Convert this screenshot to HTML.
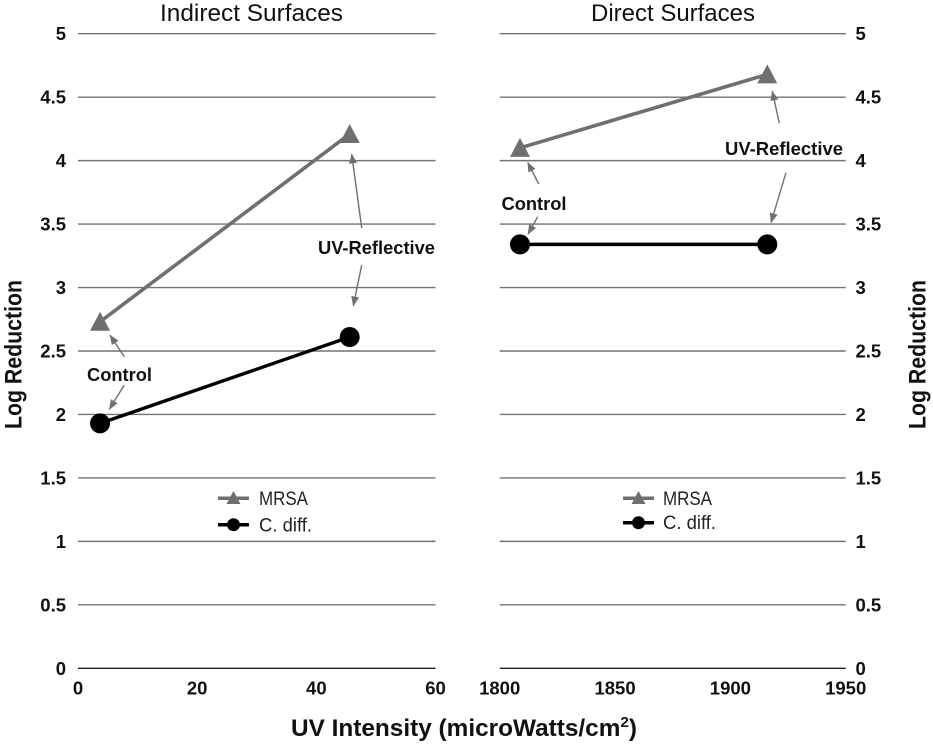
<!DOCTYPE html>
<html lang="en">
<head>
<meta charset="utf-8">
<title>Log Reduction vs UV Intensity</title>
<style>
html,body{margin:0;padding:0;background:#fff;width:933px;height:744px;overflow:hidden}
svg{display:block}
text{font-family:"Liberation Sans",sans-serif;fill:#111}
.tick{font-weight:bold;font-size:18.5px}
.title{font-size:24px}
.axis-title{font-weight:bold;font-size:24px}
.note{font-weight:bold;font-size:18px}
.legend-text{font-size:19px;fill:#222}
.arrow{stroke:#707070;stroke-width:1.4;fill:none;marker-end:url(#arrow-head)}
</style>
</head>
<body>
<svg id="chart" width="933" height="744" viewBox="0 0 933 744" xmlns="http://www.w3.org/2000/svg">
  <defs>
    <marker id="arrow-head" markerUnits="userSpaceOnUse" markerWidth="11" markerHeight="10" refX="9.5" refY="4" orient="auto">
      <path d="M0,0 L10,4 L0,8 Z" fill="#707070"></path>
    </marker>
  </defs>
  <rect width="933" height="744" fill="#fff"></rect>
  <g id="grid"></g>
  <g id="ticks"></g>

  <text class="title" x="160" y="21" textLength="183" lengthAdjust="spacingAndGlyphs">Indirect Surfaces</text>
  <text class="title" x="591" y="21" textLength="164" lengthAdjust="spacingAndGlyphs">Direct Surfaces</text>

  <text class="axis-title" transform="translate(21.5,429) rotate(-90)" textLength="149" lengthAdjust="spacingAndGlyphs">Log Reduction</text>
  <text class="axis-title" transform="translate(925.5,429) rotate(-90)" textLength="149" lengthAdjust="spacingAndGlyphs">Log Reduction</text>
  <text class="axis-title" x="291" y="736" textLength="346" lengthAdjust="spacingAndGlyphs">UV Intensity (microWatts/cm<tspan font-size="15" dy="-9">2</tspan><tspan dy="9">)</tspan></text>

  <g id="series"></g>

  <g>
    <line class="arrow" x1="361.7" y1="228" x2="351.7" y2="154"></line>
    <line class="arrow" x1="361.7" y1="265" x2="353.3" y2="306"></line>
    <line class="arrow" x1="124.3" y1="356.7" x2="110" y2="335"></line>
    <line class="arrow" x1="124.3" y1="385" x2="109.3" y2="409.3"></line>
    <text class="note" x="318" y="254" textLength="117" lengthAdjust="spacingAndGlyphs">UV-Reflective</text>
    <text class="note" x="87" y="381" textLength="65" lengthAdjust="spacingAndGlyphs">Control</text>
  </g>
  <g>
    <line class="arrow" x1="779.3" y1="123.3" x2="772.3" y2="91"></line>
    <line class="arrow" x1="786" y1="172.7" x2="771" y2="222.7"></line>
    <line class="arrow" x1="538.7" y1="184" x2="527.7" y2="162.3"></line>
    <line class="arrow" x1="537.7" y1="216.7" x2="528" y2="234.3"></line>
    <text class="note" x="725" y="155" textLength="118" lengthAdjust="spacingAndGlyphs">UV-Reflective</text>
    <text class="note" x="501.5" y="210" textLength="65" lengthAdjust="spacingAndGlyphs">Control</text>
  </g>

  <g>
    <g>
      <line x1="218" x2="249" y1="498.3" y2="498.3" stroke="#6f6f6f" stroke-width="3.5"></line>
      <path d="M233.5,491 L240.5,504 L226.5,504 Z" fill="#6f6f6f"></path>
      <text class="legend-text" x="259" y="505" textLength="49" lengthAdjust="spacingAndGlyphs">MRSA</text>
    </g>
    <g>
      <line x1="218" x2="249" y1="524.7" y2="524.7" stroke="#000" stroke-width="3.5"></line>
      <circle cx="233.5" cy="524.7" r="6.5" fill="#000"></circle>
      <text class="legend-text" x="259" y="531.3" textLength="53" lengthAdjust="spacingAndGlyphs">C. diff.</text>
    </g>
  </g>
  <g>
    <g>
      <line x1="623" x2="654" y1="498.3" y2="498.3" stroke="#6f6f6f" stroke-width="3.5"></line>
      <path d="M638.5,491 L645.5,504 L631.5,504 Z" fill="#6f6f6f"></path>
      <text class="legend-text" x="663" y="505" textLength="49" lengthAdjust="spacingAndGlyphs">MRSA</text>
    </g>
    <g>
      <line x1="623" x2="654" y1="522.7" y2="522.7" stroke="#000" stroke-width="3.5"></line>
      <circle cx="638.5" cy="522.7" r="6.5" fill="#000"></circle>
      <text class="legend-text" x="663" y="529" textLength="53" lengthAdjust="spacingAndGlyphs">C. diff.</text>
    </g>
  </g>
</svg>
<script>
const yTickValues = [0, 0.5, 1, 1.5, 2, 2.5, 3, 3.5, 4, 4.5, 5];
const indirectXTicks = [0, 20, 40, 60];
const directXTicks = [1800, 1850, 1900, 1950];

const indirectIntensity = [3.7, 45.6];
const indirectMrsa = [2.73, 4.21];
const indirectCdiff = [1.93, 2.61];

const directIntensity = [1808.8, 1916];
const directMrsa = [4.10, 4.68];
const directCdiff = [3.34, 3.34];

const SVG_NS = 'http://www.w3.org/2000/svg';
const gridLayer = document.getElementById('grid');
const tickLayer = document.getElementById('ticks');
const seriesLayer = document.getElementById('series');

function make(tag, attrs, parent) {
  const el = document.createElementNS(SVG_NS, tag);
  for (const key in attrs) el.setAttribute(key, attrs[key]);
  parent.appendChild(el);
  return el;
}
function linear(d0, d1, r0, r1) {
  return function (v) { return r0 + (v - d0) * (r1 - r0) / (d1 - d0); };
}

const yScale = linear(0, 5, 668.3, 33.7);
const indirectX = linear(0, 60, 78, 435.5);
const directX = linear(1800, 1950, 499.7, 845.7);

function drawPanel(panel, xScale, xTicks, yLabelX, yLabelAnchor) {
  yTickValues.forEach(function (v) {
    const line = make('line', {
      x1: xScale(xTicks[0]), x2: xScale(xTicks[xTicks.length - 1]),
      y1: yScale(v), y2: yScale(v),
      stroke: v === 0 ? '#222' : '#737373', 'stroke-width': 1.4
    }, gridLayer);
    
    

    const label = make('text', {
      class: 'tick', x: yLabelX, y: yScale(v) + 6.5, 'text-anchor': yLabelAnchor
    }, tickLayer);
    
    
    label.textContent = String(v);
  });
  xTicks.forEach(function (v) {
    const label = make('text', {
      class: 'tick', x: xScale(v), y: 694.5, 'text-anchor': 'middle'
    }, tickLayer);
    
    
    label.textContent = String(v);
  });
}

function drawSeries(name, xs, ys, xScale, color, shape) {
  const pts = xs.map(function (x, i) { return xScale(x) + ',' + yScale(ys[i]); }).join(' ');
  const line = make('polyline', {
    points: pts, fill: 'none', stroke: color, 'stroke-width': shape === 'triangle' ? 3.6 : 3.4
  }, seriesLayer);
  
  

  xs.forEach(function (x, i) {
    const cx = xScale(x);
    const cy = yScale(ys[i]);
    let mark;
    if (shape === 'triangle') {
      mark = make('path', {
        d: 'M' + cx + ',' + (cy - 10) + ' L' + (cx + 10) + ',' + (cy + 9) + ' L' + (cx - 10) + ',' + (cy + 9) + ' Z',
        fill: color
      }, seriesLayer);
    } else {
      mark = make('circle', { cx: cx, cy: cy, r: 10, fill: color }, seriesLayer);
    }
    
    
  });
}

drawPanel('indirect', indirectX, indirectXTicks, 66, 'end');
drawPanel('direct', directX, directXTicks, 855.5, 'start');

drawSeries('indirect-mrsa', indirectIntensity, indirectMrsa, indirectX, '#6f6f6f', 'triangle');
drawSeries('indirect-c-diff', indirectIntensity, indirectCdiff, indirectX, '#000', 'circle');
drawSeries('direct-mrsa', directIntensity, directMrsa, directX, '#6f6f6f', 'triangle');
drawSeries('direct-c-diff', directIntensity, directCdiff, directX, '#000', 'circle');
</script>
</body>
</html>
